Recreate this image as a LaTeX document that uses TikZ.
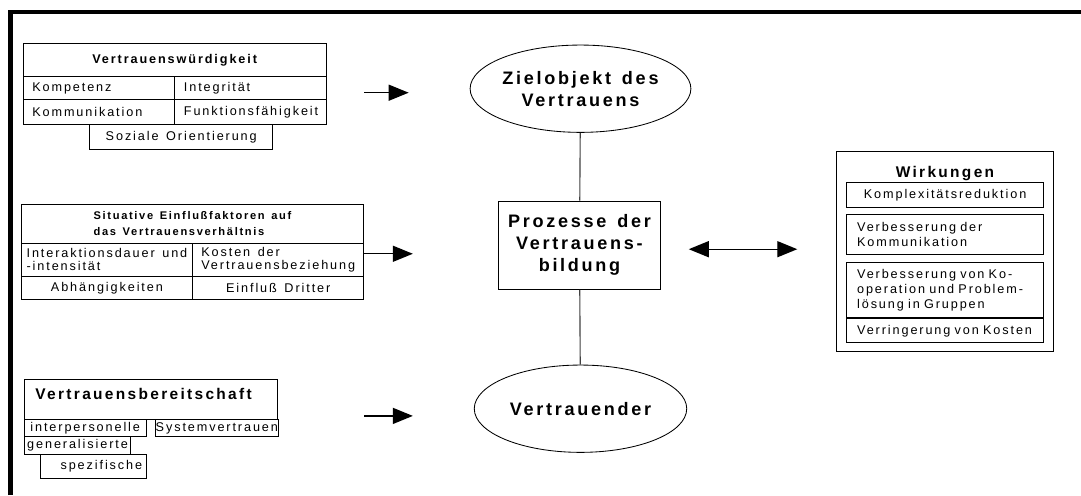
\documentclass[tikz,border=0pt]{standalone}
\usepackage{fontspec}
\setmainfont{Liberation Sans}[LetterSpace=15, WordSpace=1.4]
\usetikzlibrary{arrows.meta, shapes.geometric}
\newcommand{\txt}{\fontsize{9}{10.9}\selectfont}
\newcommand{\bigtxt}{\fontsize{12.85}{15.6}\selectfont}

\begin{document}
\begin{tikzpicture}[
        x=0.025cm, y=-0.025cm,
        cell/.style={draw, line width=0.6pt, anchor=north west, inner sep=0pt, align=center, font=\txt},
        lcell/.style={cell, align=left, inner xsep=#1},
        lcell/.default=0.23cm,
        ell/.style={ellipse, draw, line width=0.6pt, minimum width=5.31cm, minimum height=2.1825cm, inner sep=0pt, align=center, font=\bigtxt\bfseries},
        block/.style={rectangle, draw, line width=0.6pt, minimum width=4.06cm, minimum height=2.2075cm, inner sep=0pt, align=center, font=\bigtxt\bfseries},
        conn/.style={line width=0.8pt, draw=black!75},
        arrow/.style={-{Triangle[length=0.5cm, width=0.4cm]}, line width=1pt},
        dblarrow/.style={{Triangle[length=0.5cm, width=0.4cm]}-{Triangle[length=0.5cm, width=0.4cm]}, line width=1pt}
    ]
        \useasboundingbox (0,0) rectangle (1081,495);

        % Frame
        \draw[line width=3.5pt] (10.8,495) |- (1081,12);

        % Vertrauenswuerdigkeit
        \node[cell, minimum width=7.575cm, minimum height=0.82cm, font=\txt\bfseries] (vw) at (22.7,43.3) {Vertrauenswürdigkeit};
        \node[lcell, text width=3.33cm, minimum height=0.58cm] (komp) at (22.7,76) {Kompetenz};
        \node[lcell, text width=3.325cm, minimum height=0.58cm] (integ) at (174.3,76) {Integrität};
        \node[lcell, text width=3.33cm, minimum height=0.625cm] (komm) at (22.7,99.3) {Kommunikation};
        \node[lcell, text width=3.325cm, minimum height=0.625cm] (funk) at (174.3,99.3) {Funktionsfähigkeit};
        \node[cell, minimum width=4.575cm, minimum height=0.62cm] (soz) at (89.3,124.3) {Soziale Orientierung};

        % Situative Einflussfaktoren
        \node[cell, minimum width=8.565cm, minimum height=0.9675cm, align=left, font=\fontsize{7.9}{11.2}\selectfont\bfseries] (sit) at (20.7,204) {Situative Einflußfaktoren auf\\das Vertrauensverhältnis};
        \node[cell, minimum width=4.29cm, minimum height=0.8325cm, align=left, font=\fontsize{9}{9.5}\selectfont] (inter) at (20.7,242.7) {Interaktionsdauer und\\-intensität};
        \node[cell, minimum width=4.275cm, minimum height=0.8325cm, align=left, font=\fontsize{9}{9.5}\selectfont] (kost) at (192.3,242.7) {Kosten der\\Vertrauensbeziehung};
        \node[cell, minimum width=4.29cm, minimum height=0.5825cm] (abh) at (20.7,276) {Abhängigkeiten};
        \node[cell, minimum width=4.275cm, minimum height=0.5825cm] (dritt) at (192.3,276) {Einfluß Dritter};

        % Vertrauensbereitschaft
        \node[lcell=0.275cm, text width=5.7675cm, text height=13.8pt, text depth=14.65pt, font=\fontsize{11}{13}\selectfont\bfseries] (bereit) at (24,379.3) {Vertrauensbereitschaft};
        \node[lcell=0.15cm, text width=2.7425cm, minimum height=0.4175cm] (interp) at (24,419.3) {interpersonelle};
        \node[cell, minimum width=3.035cm, minimum height=0.4175cm] (sysv) at (155.3,419.3) {Systemvertrauen};
        \node[lcell=0.07cm, text width=2.51cm, minimum height=0.4575cm] (gen) at (24,436) {generalisierte};
        \node[lcell=0.1cm, text width=2.4425cm, minimum height=0.585cm, align=right] (spez) at (40,454.3) {spezifische};

        % Mitte
        \node[ell] (ziel) at (580.5,88.7) {Zielobjekt des\\Vertrauens};
        \node[block] (proz) at (579.5,245.2) {Prozesse der\\Vertrauens-\\bildung};
        \node[ell] (vtr) at (580.5,408.7) {Vertrauender};

        % Wirkungen
        \node[cell, minimum width=5.44cm, text height=18.5pt, text depth=123.8pt, font=\fontsize{11}{13}\selectfont\bfseries] (wirk) at (835.7,150.7) {Wirkungen};
        \node[cell, minimum width=4.9325cm, minimum height=0.61cm] (k1) at (846,182.3) {Komplexitätsreduktion};
        \node[lcell=0.2675cm, text width=4.3975cm, minimum height=1.0075cm] (k2) at (846,214) {Verbesserung der\\Kommunikation};
        \node[lcell=0.2675cm, text width=4.3975cm, minimum height=1.375cm] (k3) at (846,262.3) {Verbesserung von Ko-\\operation und Problem-\\lösung in Gruppen};
        \node[lcell=0.2675cm, text width=4.3975cm, minimum height=0.6cm] (k4) at (846,318.3) {Verringerung von Kosten};

        \draw[conn] (ziel) -- (proz);
        \draw[conn] (proz) -- (vtr);
        \draw[arrow, shorten <=0.94cm, shorten >=1.525cm] ([yshift=-0.1cm]integ.east |- ziel.west) -- ([yshift=-0.1cm]ziel.west);
        \draw[arrow, shorten >=2.125cm] ([yshift=0.15cm]kost.east) -- ([yshift=0.15cm]kost.east -| proz.west);
        \draw[arrow, shorten <=2.16cm, shorten >=1.525cm] ([yshift=-0.18cm]bereit.east |- vtr.west) -- ([yshift=-0.18cm]vtr.west);
        \draw[dblarrow, shorten <=0.69cm, shorten >=0.96cm] ([yshift=-0.1cm]proz.east) -- ([yshift=-0.1cm]proz.east -| wirk.west);
    \end{tikzpicture}
\end{document}
